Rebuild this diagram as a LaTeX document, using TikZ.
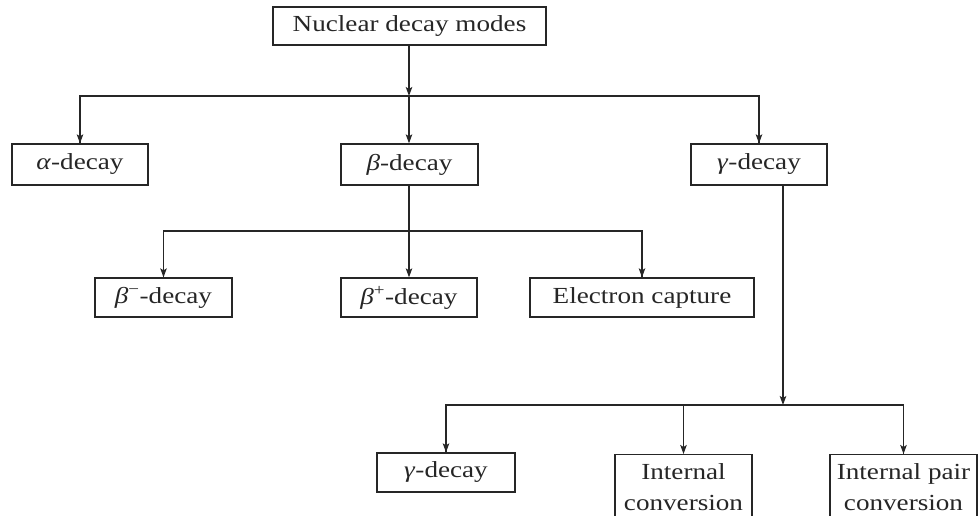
\documentclass[tikz,border=0pt]{standalone}
\usepackage{fontspec}
\setmainfont[FakeStretch=1.18]{Liberation Serif}
\usetikzlibrary{arrows.meta}

\tikzset{
  box/.style={draw=black!85, line width=1.3pt, inner sep=0pt,
    minimum height=40pt, text=black!85, align=center,
    font=\fontsize{23}{31}\selectfont},
  arr/.style={draw=black!85, line width=1.3pt,
    -{Stealth[length=9pt,width=6.5pt,inset=2pt]}},
  bus/.style={draw=black!85, line width=1.3pt},
}

\begin{document}
\begin{tikzpicture}[x=1pt,y=-1pt]

\useasboundingbox (0,0) rectangle (978,516);
\clip (0,0) rectangle (978,516);

% Root
\node[box, minimum width=273pt, minimum height=38pt] (modes) at (409.5,26) {Nuclear decay modes};

% First level
\node[box, minimum width=136pt, minimum height=41pt] (alpha) at (80,164.5) {\textit{α}-decay};
\node[box, minimum width=137pt, minimum height=41pt] (beta) at (409.5,164.5) {\textit{β}-decay};
\node[box, minimum width=136pt, minimum height=41pt] (gamma) at (759,164.5) {\textit{γ}-decay};

% Beta branches
\node[box, minimum width=137pt, minimum height=39pt] (bminus) at (163.5,297.5) {\textit{β}\textsuperscript{−}-decay};
\node[box, minimum width=136pt, minimum height=39pt] (bplus) at (409,297.5) {\textit{β}\textsuperscript{+}-decay};
\node[box, minimum width=224pt, minimum height=39pt] (capture) at (642,297.5) {Electron capture};

% Gamma branches
\node[box, minimum width=138pt, minimum height=39pt] (gdecay) at (446,472.5) {\textit{γ}-decay};
\node[box, minimum width=137pt, minimum height=64pt, anchor=north] (intconv) at (683.5,454) {Internal\\conversion};
\node[box, minimum width=147pt, minimum height=64pt, anchor=north] (pairconv) at (903.5,454) {Internal pair\\conversion};

% Bus points
\coordinate (busA) at (409,96);
\coordinate (busB) at (409,231);
\coordinate (busC) at (783,405);

% Root to first level
\draw[arr] (modes.south -| busA) -- (busA);
\draw[bus] (busA) -| (alpha.north);
\draw[bus] (busA) -| (gamma.north);
\draw[arr] (busA) -- (beta.north -| busA);
\draw[arr] (busA -| alpha.north) -- (alpha.north);
\draw[arr] (busA -| gamma.north) -- (gamma.north);

% Beta to its branches
\draw[bus] (beta.south -| busB) -- (busB);
\draw[bus] (busB) -| (bminus.north);
\draw[bus] (busB) -| (capture.north);
\draw[arr] (busB) -- (bplus.north -| busB);
\draw[arr] (busB -| bminus.north) -- (bminus.north);
\draw[arr] (busB -| capture.north) -- (capture.north);

% Gamma to its branches
\draw[arr] (gamma.south -| busC) -- (busC);
\draw[bus] (busC) -| (gdecay.north);
\draw[bus] (busC) -| (pairconv.north);
\draw[arr] (busC -| gdecay.north) -- (gdecay.north);
\draw[arr] (busC -| intconv.north) -- (intconv.north);
\draw[arr] (busC -| pairconv.north) -- (pairconv.north);

\end{tikzpicture}
\end{document}
